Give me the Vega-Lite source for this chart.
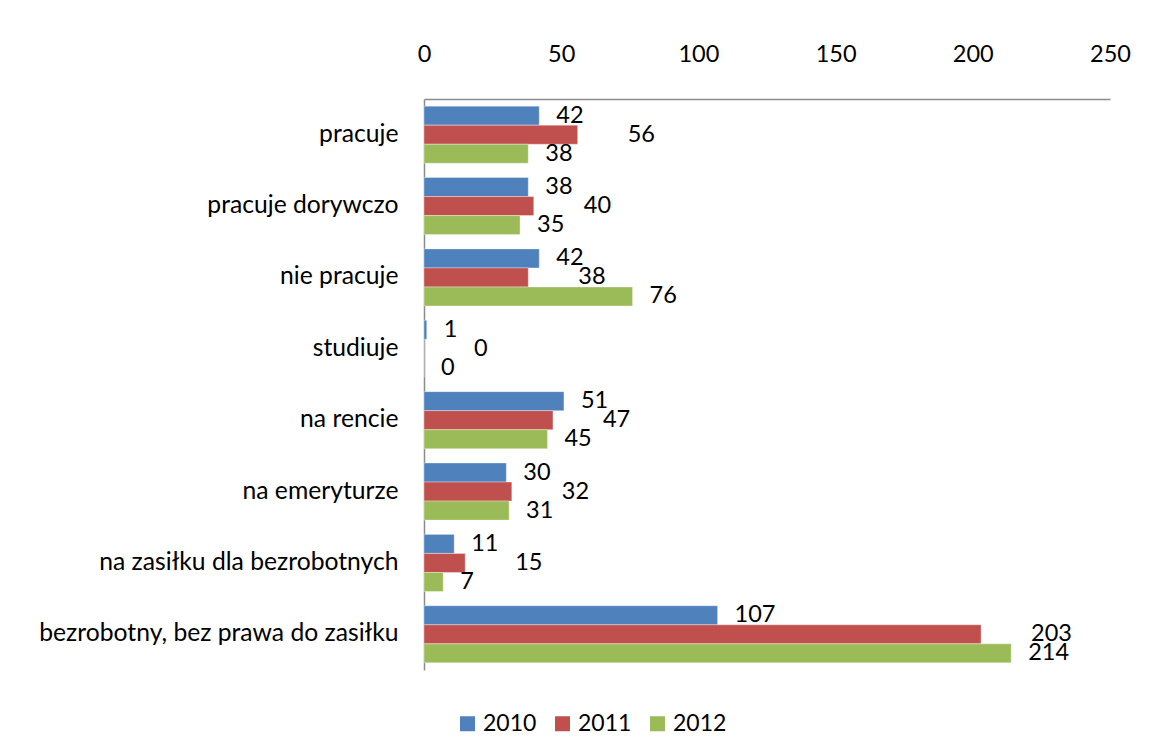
{
  "$schema": "https://vega.github.io/schema/vega-lite/v6.json",
  "autosize": {"type": "none"},
  "width": 686,
  "height": 571,
  "padding": {"left": 424, "top": 99, "right": 39, "bottom": 86},
  "background": "white",
  "config": {
    "view": {"stroke": null},
    "font": "Lato",
    "text": {"font": "Lato"}
  },
  "data": {
    "values": [
      {"cat": "pracuje", "year": "2010", "v": 42},
      {"cat": "pracuje", "year": "2011", "v": 56},
      {"cat": "pracuje", "year": "2012", "v": 38},
      {"cat": "pracuje dorywczo", "year": "2010", "v": 38},
      {"cat": "pracuje dorywczo", "year": "2011", "v": 40},
      {"cat": "pracuje dorywczo", "year": "2012", "v": 35},
      {"cat": "nie pracuje", "year": "2010", "v": 42},
      {"cat": "nie pracuje", "year": "2011", "v": 38},
      {"cat": "nie pracuje", "year": "2012", "v": 76},
      {"cat": "studiuje", "year": "2010", "v": 1},
      {"cat": "studiuje", "year": "2011", "v": 0},
      {"cat": "studiuje", "year": "2012", "v": 0},
      {"cat": "na rencie", "year": "2010", "v": 51},
      {"cat": "na rencie", "year": "2011", "v": 47},
      {"cat": "na rencie", "year": "2012", "v": 45},
      {"cat": "na emeryturze", "year": "2010", "v": 30},
      {"cat": "na emeryturze", "year": "2011", "v": 32},
      {"cat": "na emeryturze", "year": "2012", "v": 31},
      {"cat": "na zasiłku dla bezrobotnych", "year": "2010", "v": 11},
      {"cat": "na zasiłku dla bezrobotnych", "year": "2011", "v": 15},
      {"cat": "na zasiłku dla bezrobotnych", "year": "2012", "v": 7},
      {"cat": "bezrobotny, bez prawa do zasiłku", "year": "2010", "v": 107},
      {"cat": "bezrobotny, bez prawa do zasiłku", "year": "2011", "v": 203},
      {"cat": "bezrobotny, bez prawa do zasiłku", "year": "2012", "v": 214}
    ]
  },
  "encoding": {
    "y": {
      "field": "cat",
      "type": "nominal",
      "sort": null,
      "title": null,
      "scale": {"paddingInner": 0.2, "paddingOuter": 0.1},
      "axis": {
        "orient": "left",
        "ticks": false,
        "labelPadding": 26,
        "labelFontSize": 24.7,
        "labelColor": "#000000",
        "labelFont": "Lato",
        "domainColor": "#8c8c8c",
        "domainWidth": 1.5,
        "labelLimit": 500
      }
    },
    "x": {
      "field": "v",
      "type": "quantitative",
      "title": null,
      "scale": {"domain": [0, 250], "nice": false},
      "axis": {
        "orient": "top",
        "values": [0, 50, 100, 150, 200, 250],
        "grid": false,
        "ticks": false,
        "labelPadding": 33,
        "labelFontSize": 23.5,
        "labelColor": "#000000",
        "labelFont": "Lato",
        "domainColor": "#8c8c8c",
        "domainWidth": 1.5,
        "labelFlush": false
      }
    },
    "yOffset": {"field": "year", "type": "nominal", "scale": {"paddingInner": 0, "paddingOuter": 0}}
  },
  "layer": [
    {
      "mark": {"type": "bar", "stroke": "#ffffff", "strokeOpacity": 0.35, "strokeWidth": 1},
      "encoding": {
        "color": {
          "field": "year",
          "type": "nominal",
          "title": null,
          "scale": {"domain": ["2010", "2011", "2012"], "range": ["#4F81BD", "#C0504D", "#9BBB59"]},
          "legend": {
            "orient": "none",
            "direction": "horizontal",
            "legendX": 32,
            "legendY": 613,
            "symbolType": "square",
            "symbolSize": 225,
            "symbolStrokeWidth": 0,
            "labelFontSize": 23,
            "labelFont": "Lato",
            "labelColor": "#000000",
            "labelOffset": 4,
            "columnPadding": 14
          }
        }
      }
    },
    {
      "transform": [{"filter": "datum.year == '2010'"}],
      "mark": {"type": "text", "align": "left", "baseline": "middle", "dx": 17, "fontSize": 23.5, "font": "Lato", "color": "#000000"},
      "encoding": {"text": {"field": "v", "type": "quantitative"}}
    },
    {
      "transform": [{"filter": "datum.year == '2011'"}],
      "mark": {"type": "text", "align": "left", "baseline": "middle", "dx": 50, "fontSize": 23.5, "font": "Lato", "color": "#000000"},
      "encoding": {"text": {"field": "v", "type": "quantitative"}}
    },
    {
      "transform": [{"filter": "datum.year == '2012'"}],
      "mark": {"type": "text", "align": "left", "baseline": "middle", "dx": 17, "fontSize": 23.5, "font": "Lato", "color": "#000000"},
      "encoding": {"text": {"field": "v", "type": "quantitative"}}
    }
  ]
}
